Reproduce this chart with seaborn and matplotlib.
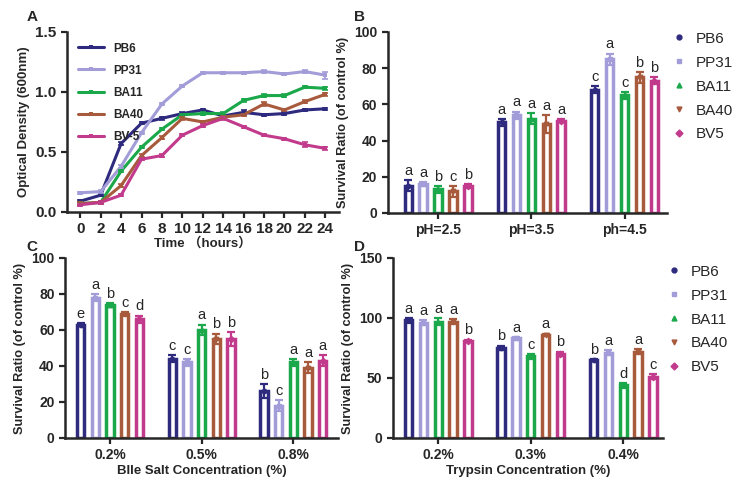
import numpy as np
import pandas as pd
import matplotlib
matplotlib.use("Agg")
import matplotlib.pyplot as plt
import seaborn as sns
from matplotlib.lines import Line2D

# ==========================================
# DATA
# ==========================================

strains = ['PB6', 'PP31', 'BA11', 'BA40', 'BV5']
line_labels = ['PB6', 'PP31', 'BA11', 'BA40', 'BV-5']
colors = ['#2e2a7e', '#a29dd8', '#1ba84b', '#a85a3d', '#c23a8c']
markers = ['o', 's', '^', 'v', 'D']

# A: growth curve
hours = [0, 2, 4, 6, 8, 10, 12, 14, 16, 18, 20, 22, 24]
od_pb6 = [0.09, 0.14, 0.57, 0.74, 0.78, 0.82, 0.85, 0.80, 0.83, 0.81, 0.82, 0.85, 0.86]
od_pp31 = [0.16, 0.17, 0.38, 0.66, 0.90, 1.05, 1.16, 1.16, 1.16, 1.17, 1.15, 1.17, 1.14]
od_ba11 = [0.07, 0.08, 0.34, 0.54, 0.69, 0.81, 0.82, 0.82, 0.93, 0.97, 0.97, 1.04, 1.03]
od_ba40 = [0.07, 0.08, 0.22, 0.47, 0.62, 0.78, 0.75, 0.79, 0.81, 0.90, 0.85, 0.92, 0.98]
od_bv5 = [0.06, 0.08, 0.14, 0.44, 0.47, 0.64, 0.72, 0.78, 0.71, 0.64, 0.61, 0.56, 0.53]
od_err_pb6 = [0.01, 0.01, 0.01, 0.01, 0.01, 0.01, 0.01, 0.01, 0.02, 0.01, 0.01, 0.01, 0.01]
od_err_pp31 = [0.01, 0.01, 0.01, 0.01, 0.01, 0.01, 0.01, 0.01, 0.01, 0.01, 0.01, 0.01, 0.03]
od_err_ba11 = [0.01, 0.01, 0.01, 0.01, 0.01, 0.01, 0.01, 0.01, 0.01, 0.01, 0.01, 0.01, 0.01]
od_err_ba40 = [0.01, 0.01, 0.01, 0.01, 0.01, 0.01, 0.01, 0.01, 0.01, 0.02, 0.01, 0.01, 0.01]
od_err_bv5 = [0.01, 0.01, 0.01, 0.01, 0.01, 0.01, 0.01, 0.01, 0.01, 0.01, 0.01, 0.02, 0.01]

# B: acid tolerance
ph_groups = ['pH=2.5', 'pH=3.5', 'ph=4.5']
ph_mean = [[15, 50, 68], [16, 54, 85], [13, 52, 65], [12, 49, 75], [15, 51, 73]]
ph_err = [[3, 2, 2], [1, 2, 3], [2, 3, 2], [3, 5, 3], [1, 1, 2]]
ph_letters = [['a', 'a', 'c'], ['a', 'a', 'a'], ['b', 'a', 'c'], ['c', 'a', 'b'], ['b', 'a', 'b']]

# C: bile salt tolerance
bile_groups = ['0.2%', '0.5%', '0.8%']
bile_mean = [[63, 44, 26], [78, 42, 18], [74, 60, 42], [69, 55, 39], [66, 55, 43]]
bile_err = [[1, 2, 4], [2, 2, 3], [1, 3, 2], [1, 3, 3], [2, 4, 3]]
bile_letters = [['e', 'c', 'b'], ['a', 'c', 'c'], ['b', 'a', 'a'], ['c', 'b', 'a'], ['d', 'b', 'a']]

# D: trypsin tolerance
tryp_groups = ['0.2%', '0.3%', '0.4%']
tryp_mean = [[98, 75, 65], [96, 83, 71], [97, 68, 44], [97, 86, 72], [81, 70, 51]]
tryp_err = [[2, 2, 1], [2, 1, 2], [3, 2, 2], [2, 1, 2], [1, 2, 2]]
tryp_letters = [['a', 'b', 'b'], ['a', 'a', 'a'], ['a', 'c', 'd'], ['a', 'a', 'a'], ['b', 'b', 'c']]

# ==========================================
# STYLE
# ==========================================

sns.set_style("ticks")
plt.rcParams['font.family'] = ['Liberation Sans', 'Noto Sans CJK SC', 'DejaVu Sans']
plt.rcParams['axes.linewidth'] = 1.8
plt.rcParams['xtick.major.width'] = 1.6
plt.rcParams['ytick.major.width'] = 1.6
plt.rcParams['xtick.major.size'] = 4
plt.rcParams['ytick.major.size'] = 4

fig = plt.figure(figsize=(7.4, 4.96), dpi=100)

axA = fig.add_axes([0.0905, 0.5726, 0.367, 0.363])
axB = fig.add_axes([0.524, 0.5706, 0.378, 0.365])
axC = fig.add_axes([0.088, 0.117, 0.369, 0.363])
axD = fig.add_axes([0.531, 0.117, 0.365, 0.363])

# ==========================================
# A. GROWTH CURVE
# ==========================================

od_all = [od_pb6, od_pp31, od_ba11, od_ba40, od_bv5]
err_all = [od_err_pb6, od_err_pp31, od_err_ba11, od_err_ba40, od_err_bv5]

df_a = pd.concat([
    pd.DataFrame({'Time': hours, 'OD': od, 'Strain': lab})
    for od, lab in zip(od_all, line_labels)
])

sns.lineplot(
    data=df_a, x='Time', y='OD', hue='Strain',
    palette=colors, marker='s', markersize=3.5,
    markeredgewidth=0, linewidth=2.2, ax=axA
)
for od, err, c in zip(od_all, err_all, colors):
    axA.errorbar(hours, od, yerr=err, fmt='none', ecolor=c,
                 elinewidth=1.2, capsize=2.5, capthick=1.2)

axA.set_xlim(-1.3, 25.3)
axA.set_ylim(0, 1.5)
axA.set_xticks(hours)
axA.set_yticks([0.0, 0.5, 1.0, 1.5])
axA.set_yticklabels(['0.0', '0.5', '1.0', '1.5'])
axA.tick_params(labelsize=11)
for t in axA.get_xticklabels() + axA.get_yticklabels():
    t.set_fontweight('bold')
axA.set_xlabel("Time （hours）", fontsize=9.5, fontweight='bold', labelpad=0.5)
axA.set_ylabel("Optical Density (600nm)", fontsize=9.5, fontweight='bold')
leg = axA.legend(loc='upper left', frameon=False, fontsize=8.5,
                 handlelength=2.2, labelspacing=0.85,
                 bbox_to_anchor=(0.0, 1.0))
for t in leg.get_texts():
    t.set_fontweight('bold')
sns.despine(ax=axA)

# ==========================================
# B, C, D. SURVIVAL BAR CHARTS
# ==========================================


def survival_bars(ax, groups, means, errs, letters, ylim, yticks,
                  xlabel, xlim, legend_top):
    df = pd.concat([
        pd.DataFrame({'Group': groups, 'Value': m, 'Strain': s})
        for m, s in zip(means, strains)
    ])
    sns.barplot(
        data=df, x='Group', y='Value', hue='Strain',
        palette=colors, fill=False, linewidth=2.5,
        gap=0.5, width=0.8, legend=False, ax=ax
    )
    bar_sets = [c for c in ax.containers if hasattr(c, 'patches')]
    for k, cont in enumerate(bar_sets):
        xs = [p.get_x() + p.get_width() / 2 for p in cont.patches]
        ys = means[k]
        ax.errorbar(xs, ys, yerr=errs[k], fmt='none', ecolor=colors[k],
                    elinewidth=1.6, capsize=3, capthick=1.6)
        ax.scatter(xs, ys, color=colors[k], marker=markers[k], s=10, zorder=4)
        for x, y, e, lab in zip(xs, ys, errs[k], letters[k]):
            ax.text(x, y + e + ylim[1] * 0.012, lab, ha='center',
                    va='bottom', fontsize=10.5)
    ax.set_ylim(*ylim)
    ax.set_xlim(*xlim)
    ax.set_yticks(yticks)
    ax.tick_params(labelsize=10)
    for t in ax.get_xticklabels() + ax.get_yticklabels():
        t.set_fontweight('bold')
    ax.set_xlabel(xlabel, fontsize=9.5, fontweight='bold', labelpad=2)
    ax.set_ylabel("Survival Ratio (of control %)", fontsize=9.2,
                  fontweight='bold')
    sns.despine(ax=ax)
    if legend_top is not None:
        handles = [
            Line2D([], [], linestyle='none', marker=m, color=c, markersize=3.5)
            for m, c in zip(markers, colors)
        ]
        ax.legend(handles, strains, loc='upper left',
                  bbox_to_anchor=(0.98, legend_top), frameon=False,
                  fontsize=11, handlelength=0.8, labelspacing=0.65,
                  handletextpad=0.7, borderpad=0.2)


survival_bars(axB, ph_groups, ph_mean, ph_err, ph_letters,
              (0, 100), [0, 20, 40, 60, 80, 100], "", (-0.54, 2.46), 1.06)
survival_bars(axC, bile_groups, bile_mean, bile_err, bile_letters,
              (0, 100), [0, 20, 40, 60, 80, 100],
              "BIle Salt Concentration (%)", (-0.49, 2.49), None)
survival_bars(axD, tryp_groups, tryp_mean, tryp_err, tryp_letters,
              (0, 150), [0, 50, 100, 150],
              "Trypsin Concentration (%)", (-0.49, 2.43), 1.022)

# panel letters
for lab, x, y in [('A', 0.036, 0.965), ('B', 0.478, 0.965),
                  ('C', 0.036, 0.503), ('D', 0.478, 0.503)]:
    fig.text(x, y, lab, fontsize=11, fontweight='bold', ha='left', va='center')

plt.savefig("out.png", dpi=100)
